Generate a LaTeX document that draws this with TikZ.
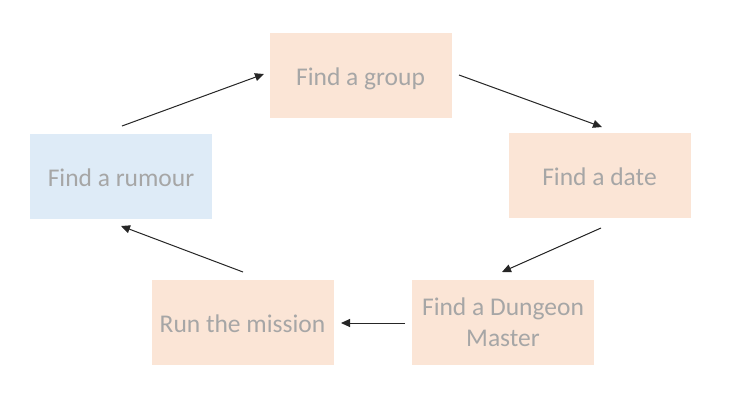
\documentclass[tikz,border=0pt]{standalone}
\usepackage{fontspec}
\setmainfont{Carlito}
\usetikzlibrary{arrows.meta}
\definecolor{boxorange}{HTML}{FBE5D6}
\definecolor{boxblue}{HTML}{DEEBF7}
\definecolor{txtgrey}{HTML}{A6A6A6}
\tikzset{
  stepbox/.style={rectangle, draw=none, minimum width=182pt, minimum height=85pt,
    inner sep=0pt, align=center, text=txtgrey,
    font=\fontsize{25.5}{30.5}\selectfont},
  oneline/.style={text height=22pt, text depth=2pt},
  orangebox/.style={stepbox, fill=boxorange},
  bluebox/.style={stepbox, fill=boxblue},
  flow/.style={draw=black!85, line width=1pt, -{Triangle[length=9pt,width=8pt]}}
}
\begin{document}
\begin{tikzpicture}[x=1pt,y=-1pt]
\useasboundingbox (0,0) rectangle (744,400);
\fill[white] (0,0) rectangle (744,400);
\node[orangebox, oneline] (group) at (360.5,75) {Find a group};
\node[bluebox, oneline] (rumour) at (121,176) {Find a rumour};
\node[orangebox, oneline] (date) at (599.5,175.5) {Find a date};
\node[orangebox] (dm) at (503,322) {Find a Dungeon\\Master};
\node[orangebox, oneline] (run) at (242.5,322) {Run the mission};
\coordinate (a1s) at (122,126); \coordinate (a1e) at (264,74);
\coordinate (a2s) at (459,75);  \coordinate (a2e) at (602,127);
\coordinate (a3s) at (601,228); \coordinate (a3e) at (502,272);
\coordinate (a4s) at (405,323); \coordinate (a4e) at (341,323);
\coordinate (a5s) at (243,272); \coordinate (a5e) at (121,226);
\draw[flow] (a1s) -- (a1e);
\draw[flow] (a2s) -- (a2e);
\draw[flow] (a3s) -- (a3e);
\draw[flow] (a4s) -- (a4e);
\draw[flow] (a5s) -- (a5e);
\end{tikzpicture}
\end{document}
